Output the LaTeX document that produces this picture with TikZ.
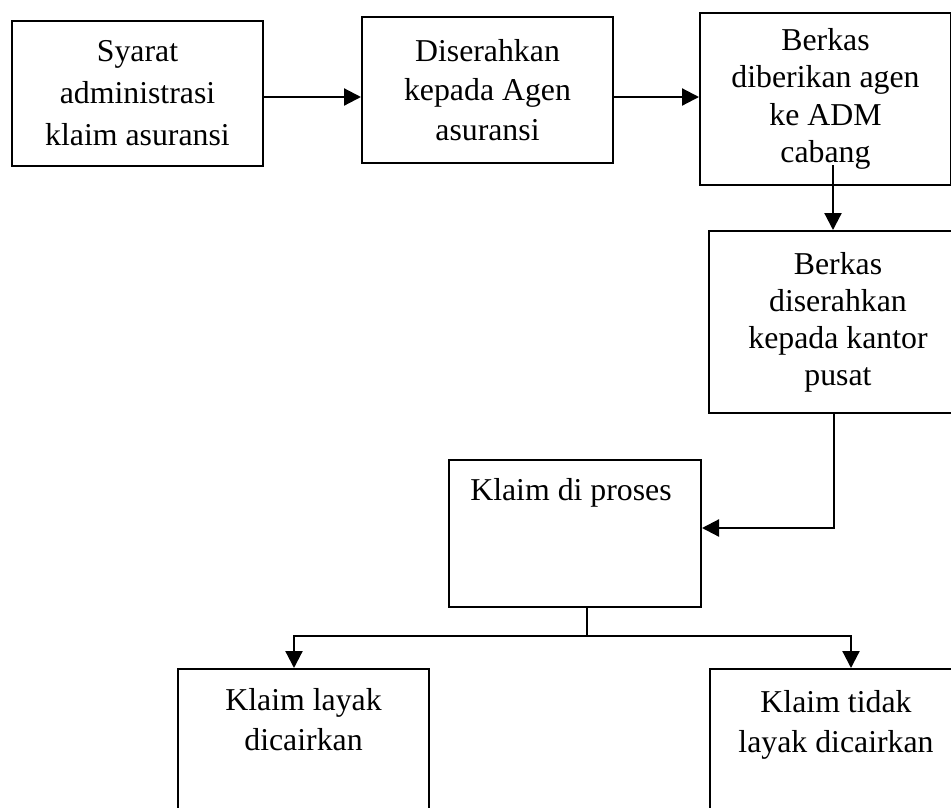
\documentclass[tikz,border=0pt]{standalone}
\usepackage{fontspec}
\setmainfont{Liberation Serif}
\usetikzlibrary{arrows.meta,calc}
\tikzset{
  box/.style={draw=black, line width=2pt, rectangle, anchor=north west, inner sep=2pt, align=center,
    font=\fontsize{31.8}{38}\selectfont},
  txt/.style={inner sep=0pt, align=center, anchor=north, font=\fontsize{31.8}{40}\selectfont},
  conn/.style={draw=black, line width=2.2pt},
  arr/.style={conn, -{Triangle[length=17pt,width=17pt]}}
}
\begin{document}
\begin{tikzpicture}[x=1pt,y=-1pt]
\clip (0,0) rectangle (951,807);
\fill[white] (0,0) rectangle (951,807);
% boxes
\node[box, minimum width=251pt, minimum height=145pt, font=\fontsize{31.8}{42}\selectfont] (b1) at (11,20) {Syarat\\administrasi\\klaim asuransi};
\node[box, minimum width=251pt, minimum height=146pt, font=\fontsize{31.8}{39.5}\selectfont] (b2) at (361,16) {Diserahkan\\kepada Agen\\asuransi};
\node[box, minimum width=251pt, minimum height=172pt, font=\fontsize{31.8}{37.5}\selectfont] (b3) at (699,12) {Berkas\\diberikan agen\\ke ADM\\cabang};
\node[box, minimum width=258pt, minimum height=182pt, font=\fontsize{31.8}{37}\selectfont] (b4) at (708,230) {Berkas\\diserahkan\\kepada kantor\\pusat};
\node[box, minimum width=252pt, minimum height=147pt] (b5) at (448,459) {};
\node[box, minimum width=251pt, minimum height=170pt] (b6) at (177,668) {};
\node[box, minimum width=252pt, minimum height=170pt] (b7) at (709,668) {};
% texts in top-aligned boxes
\node[txt] (t5) at ($(b5.north)+(-4,19)$) {Klaim di proses};
\node[txt] (t6) at ($(b6.north)+(0,20)$) {Klaim layak\\dicairkan};
\node[txt] (t7) at ($(b7.north)+(0,22)$) {Klaim tidak\\layak dicairkan};
% connectors
\coordinate (s1) at ($(b1.east)+(0,3.5)$);
\draw[arr] (s1) -- (s1 -| b2.west);
\coordinate (s2) at ($(b2.east)+(0,7)$);
\draw[arr] (s2) -- (s2 -| b3.west);
\coordinate (s3) at ($(b3.south)+(7.5,-21)$);
\draw[arr] (s3) -- (s3 |- b4.north);
\coordinate (s4) at ($(b4.south)+(-4,0)$);
\coordinate (e4) at ($(b5.east)+(0,-5.5)$);
\draw[arr] (s4) |- (e4);
\coordinate (s5) at ($(b5.south)+(12,0)$);
\coordinate (j) at ($(b5.south)+(12,28)$);
\draw[conn, line width=1.6pt] (s5) -- (j);
\coordinate (e6) at ($(b6.north)+(-9.5,0)$);
\coordinate (e7) at ($(b7.north)+(15,0)$);
\draw[arr] (j) -| (e6);
\draw[arr] (j) -| (e7);
\end{tikzpicture}
\end{document}
